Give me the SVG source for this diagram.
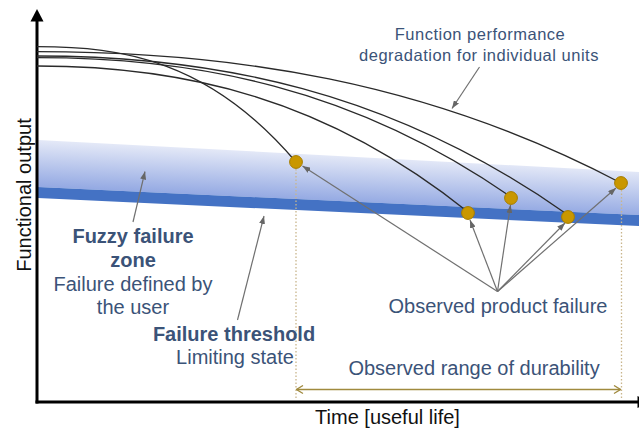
<svg xmlns="http://www.w3.org/2000/svg" width="639" height="430" viewBox="0 0 639 430">
<style>
.t{font-family:"Liberation Sans",Arial,sans-serif;font-size:20px;fill:#3B5378;text-anchor:middle}
.b{font-weight:bold}
.ax{font-family:"Liberation Sans",Arial,sans-serif;font-size:20px;fill:#111;text-anchor:middle}
.fp{font-family:"Liberation Sans",Arial,sans-serif;font-size:16.5px;letter-spacing:0.5px;fill:#3B5378;text-anchor:middle}
.cv{fill:none;stroke:#2a2a2a;stroke-width:1.3}
.pt{fill:none;stroke:#707070;stroke-width:1.2;marker-end:url(#ah)}
.dot{fill:none;stroke:#C9B58C;stroke-width:1.3;stroke-dasharray:1.5 2}
.fc{fill:#C99700;stroke:#A67D00;stroke-width:1}
</style>
<defs>
<linearGradient id="fz" gradientUnits="userSpaceOnUse" x1="338" y1="156" x2="335.7" y2="201">
<stop offset="0" stop-color="#E3E8F7"/>
<stop offset="1" stop-color="#95AAE3"/>
</linearGradient>
<marker id="ah" viewBox="0 0 8 6" refX="8" refY="3" markerWidth="8" markerHeight="6" markerUnits="userSpaceOnUse" orient="auto">
<path d="M0,0 L8,3 L0,6 z" fill="#666"/>
</marker>
<marker id="ch" viewBox="0 0 8 10" refX="7.5" refY="5" markerWidth="8" markerHeight="10" markerUnits="userSpaceOnUse" orient="auto-start-reverse">
<path d="M1,1 L7.5,5 L1,9" fill="none" stroke="#A08A3E" stroke-width="1.3"/>
</marker>
</defs>

<g id="fuzzy-zone">
<polygon points="38,140 639,172 639,215 38,187" fill="url(#fz)"/>
</g>
<g id="failure-threshold">
<polygon points="38,187 639,215 639,226 38,198" fill="#4472C4"/>
</g>

<g id="axes">
<line x1="37" y1="403.5" x2="37" y2="20" stroke="#000" stroke-width="3"/>
<polygon points="37,9 30.5,21.5 43.5,21.5" fill="#000"/>
<line x1="35.5" y1="402" x2="639" y2="402" stroke="#000" stroke-width="3"/>
<polygon points="637.5,396 650,402 637.5,408" fill="#000"/>
</g>

<g id="connectors">
<path class="cv" d="M37,46.7 C123.3,46.7 209.7,60.5 296,162"/>
<path class="cv" d="M37,51.7 C231.7,51.7 426.3,80.6 621,183"/>
<path class="cv" d="M37,56 C214,56 391,90.2 568,215"/>
<path class="cv" d="M37,57.7 C195,57.7 353,87 511,197"/>
<path class="cv" d="M37,66 C180.7,66 324.3,96.7 468,212"/>
<line class="dot" x1="296" y1="169" x2="296" y2="400"/>
<line class="dot" x1="621.5" y1="190" x2="621.5" y2="400"/>
<line x1="296.5" y1="389.5" x2="620.5" y2="389.5" stroke="#A08A3E" stroke-width="1.3" marker-start="url(#ch)" marker-end="url(#ch)"/>
<line class="pt" x1="479.5" y1="67" x2="452" y2="108.5"/>
<line class="pt" x1="133" y1="222" x2="145" y2="171.5"/>
<line class="pt" x1="237.5" y1="320" x2="264" y2="216"/>
<line class="pt" x1="497.5" y1="291.5" x2="302.5" y2="166"/>
<line class="pt" x1="497.5" y1="291.5" x2="470" y2="220"/>
<line class="pt" x1="497.5" y1="291.5" x2="510.5" y2="205"/>
<line class="pt" x1="497.5" y1="291.5" x2="565" y2="223"/>
<line class="pt" x1="497.5" y1="291.5" x2="616" y2="188"/>
</g>

<g id="failure-1"><circle class="fc" cx="296" cy="162" r="6.4"/></g>
<g id="failure-2"><circle class="fc" cx="468" cy="213" r="6.4"/></g>
<g id="failure-3"><circle class="fc" cx="511" cy="198" r="6.4"/></g>
<g id="failure-4"><circle class="fc" cx="568" cy="217" r="6.4"/></g>
<g id="failure-5"><circle class="fc" cx="621" cy="183" r="6.4"/></g>

<g id="label-degradation">
<text class="fp" x="480" y="40">Function performance</text>
<text class="fp" x="479" y="61">degradation for individual units</text>
</g>
<g id="label-fuzzy">
<text class="t b" x="133" y="243">Fuzzy failure</text>
<text class="t b" x="133" y="267">zone</text>
<text class="t" x="133" y="291">Failure defined by</text>
<text class="t" x="133" y="314">the user</text>
</g>
<g id="label-threshold">
<text class="t b" x="234" y="341">Failure threshold</text>
<text class="t" x="235" y="364">Limiting state</text>
</g>
<g id="label-observed-failure">
<text class="t" x="498" y="313">Observed product failure</text>
</g>
<g id="label-range">
<text class="t" x="474" y="375">Observed range of durability</text>
</g>
<g id="label-x-axis">
<text class="ax" x="387.5" y="424">Time [useful life]</text>
</g>
<g id="label-y-axis">
<text class="ax" transform="translate(31,195) rotate(-90)">Functional output</text>
</g>
</svg>
